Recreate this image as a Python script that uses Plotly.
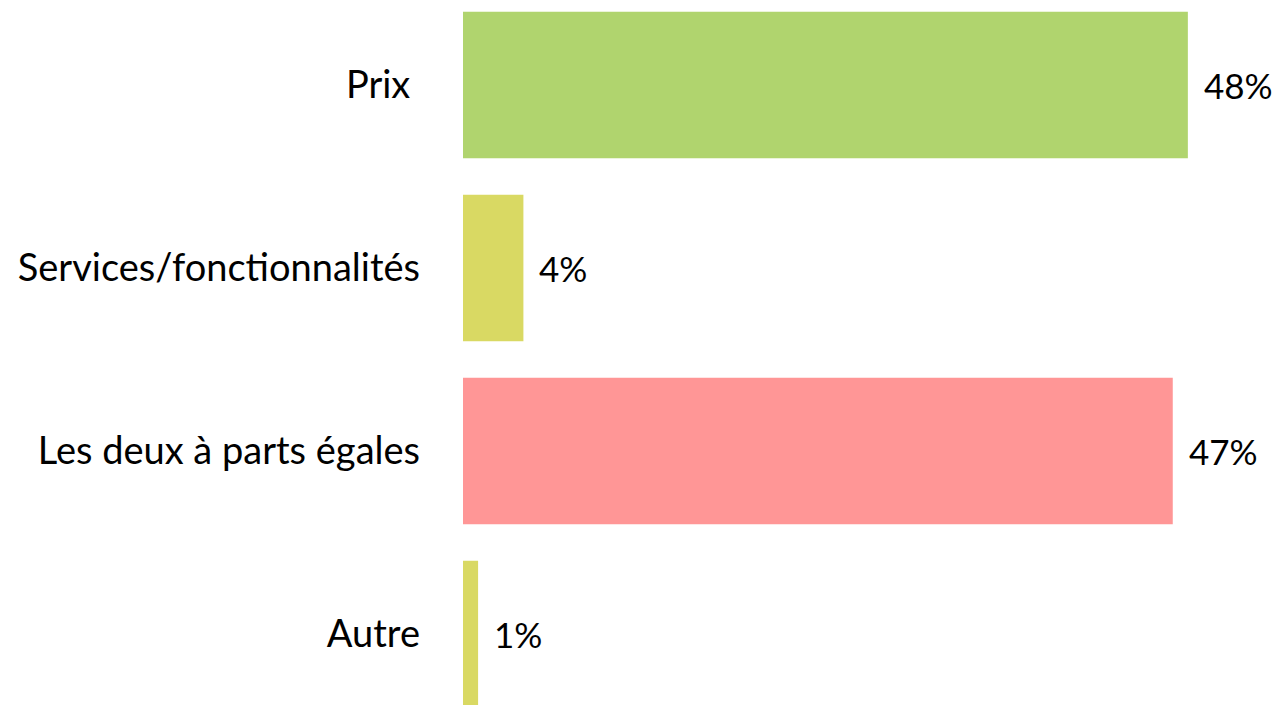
import plotly.graph_objects as go

categories = ["Prix ", "Services/fonctionnalités", "Les deux à parts égales", "Autre"]
values = [48, 4, 47, 1]
labels = ["48%", "4%", "47%", "1%"]
colors = ["#B0D46E", "#D9D963", "#FF9696", "#D9D963"]

fig = go.Figure()
fig.add_trace(go.Bar(
    y=categories, x=values, orientation="h",
    marker=dict(color=colors, line=dict(width=0)),
    width=0.8, hoverinfo="skip",
))
for c, v, t in zip(categories, values, labels):
    fig.add_annotation(x=v, y=c, text=t, showarrow=False, xanchor="left",
                       xshift=14, font=dict(size=35, color="#000000"))

fig.update_layout(
    width=1275, height=697,
    margin=dict(l=455, r=0, t=0, b=0),
    plot_bgcolor="white", paper_bgcolor="white",
    font=dict(family="Lato, sans-serif", size=38, color="#000000"),
    showlegend=False,
    xaxis=dict(range=[0, 54.3], visible=False, fixedrange=True),
    yaxis=dict(range=[3.388, -0.4208], showgrid=False, zeroline=False,
               showline=False, ticks="", ticklabelstandoff=42,
               tickfont=dict(size=38)),
)
fig.write_html("out.html")
